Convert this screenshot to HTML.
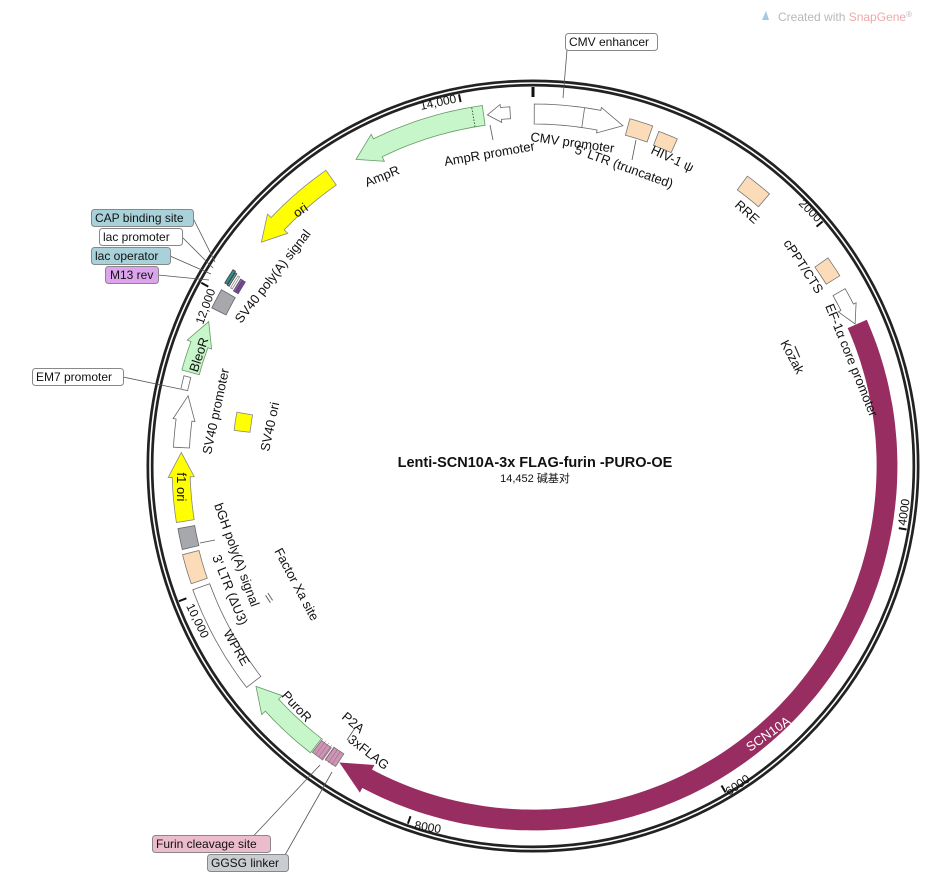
<!DOCTYPE html>
<html><head><meta charset="utf-8">
<style>
html,body{margin:0;padding:0;background:#fff;}
svg{display:block;font-family:"Liberation Sans","DejaVu Sans","Noto Sans CJK SC",sans-serif;}
.l{font-size:13px;fill:#111;}
.tk{font-size:12px;fill:#111;}
</style></head>
<body>
<svg id="s" width="938" height="885" viewBox="0 0 938 885" xmlns="http://www.w3.org/2000/svg">
<g id="shapes"></g>
<circle cx="533" cy="466" r="383" fill="none" stroke="#222" stroke-width="7"/>
<circle cx="533" cy="466" r="383" fill="none" stroke="#fff" stroke-width="1.6"/>
<g id="ticks"></g>

<text x="535" y="467" text-anchor="middle" font-size="14.5" font-weight="bold" fill="#111">Lenti-SCN10A-3x FLAG-furin -PURO-OE</text>
<text x="535" y="482" text-anchor="middle" font-size="11" fill="#111">14,452 碱基对</text>

<text x="778" y="21" font-size="12" fill="#b8b8b8">Created with <tspan fill="#f0a8a8">SnapGene</tspan><tspan font-size="8" dy="-4">®</tspan></text>
<path d="M762 20 l4 -9 l3 9 z" fill="#9ecae8"/>

<g stroke="#555" stroke-width="0.8" fill="none">
<path d="M567 50 L563 98"/>
<path d="M193 218 L215 262"/>
<path d="M182 237 L213 268"/>
<path d="M170 256 L211 274"/>
<path d="M158 275 L209 280"/>
<path d="M123 377 L180 389"/>
<path d="M245 845 L320 765"/>
<path d="M285 855 L332 772"/>
<path d="M636 140 L632 160"/>
<path d="M490 125 L493 140"/>
<path d="M347 740 L355 728"/>
<path d="M200 543 L215 540"/>
</g>

<g font-size="12">
<rect x="565.5" y="33.5" width="92" height="17" rx="3" fill="#fff" stroke="#888"/>
<text x="569" y="46" fill="#111">CMV enhancer</text>
<rect x="91.5" y="209.5" width="102" height="17" rx="3" fill="#a9d1d9" stroke="#888"/>
<text x="95" y="222" fill="#111">CAP binding site</text>
<rect x="99.5" y="228.5" width="83" height="17" rx="3" fill="#fff" stroke="#888"/>
<text x="103" y="241" fill="#111">lac promoter</text>
<rect x="91.5" y="247.5" width="79" height="17" rx="3" fill="#a9d1d9" stroke="#888"/>
<text x="95" y="260" fill="#111">lac operator</text>
<rect x="105.5" y="266.5" width="53" height="17" rx="3" fill="#dca4ec" stroke="#888"/>
<text x="110" y="279" fill="#111">M13 rev</text>
<rect x="32.5" y="368.5" width="91" height="17" rx="3" fill="#fff" stroke="#888"/>
<text x="36" y="381" fill="#111">EM7 promoter</text>
<rect x="152.5" y="835.5" width="118" height="17" rx="3" fill="#ecbccd" stroke="#888"/>
<text x="156" y="848" fill="#111">Furin cleavage site</text>
<rect x="207.5" y="854.5" width="81" height="17" rx="3" fill="#c9cdd1" stroke="#888"/>
<text x="211" y="867" fill="#111">GGSG linker</text>
</g>

<g class="l">
<text transform="translate(530,141) rotate(8)">CMV promoter</text>
<text transform="translate(574,153) rotate(20)">5' LTR (truncated)</text>
<text transform="translate(650,153) rotate(25)">HIV-1 ψ</text>
<text transform="translate(734,206) rotate(42)">RRE</text>
<text transform="translate(783,243) rotate(57)">cPPT/CTS</text>
<text transform="translate(825,306) rotate(68)">EF-1α core promoter</text>
<text transform="translate(780,343) rotate(62)">Kozak</text>
<text transform="translate(750,752) rotate(-35)" fill="#fff">SCN10A</text>
<text transform="translate(341,718) rotate(40)">P2A</text>
<text transform="translate(347,741) rotate(38)">3xFLAG</text>
<text transform="translate(281,696) rotate(47)">PuroR</text>
<text transform="translate(223,633) rotate(60)">WPRE</text>
<text transform="translate(212,557) rotate(68)">3' LTR (ΔU3)</text>
<text transform="translate(214,505) rotate(70)">bGH poly(A) signal</text>
<text transform="translate(274,551) rotate(62)">Factor Xa site</text>
<text transform="translate(177,487) rotate(90)" text-anchor="middle">f1 ori</text>
<text transform="translate(211,455) rotate(-78)">SV40 promoter</text>
<text transform="translate(269,452) rotate(-78)">SV40 ori</text>
<text transform="translate(203,356) rotate(-72)" text-anchor="middle">BleoR</text>
<text transform="translate(241,324) rotate(-52)">SV40 poly(A) signal</text>
<text transform="translate(297,218) rotate(-35)">ori</text>
<text transform="translate(367,187) rotate(-22)">AmpR</text>
<text transform="translate(445,166) rotate(-10)">AmpR promoter</text>
</g>
<g class="tk">
<text transform="translate(421,110) rotate(-12)">14,000</text>
<text transform="translate(798,204) rotate(45)">2000</text>
<text transform="translate(906,526) rotate(-82)">4000</text>
<text transform="translate(729,796) rotate(-35)">6000</text>
<text transform="translate(414,829) rotate(9)">8000</text>
<text transform="translate(186,606) rotate(64)">10,000</text>
<text transform="translate(203,325) rotate(-70)">12,000</text>
</g>
</svg>
<script>
var cx=533,cy=466,NS="http://www.w3.org/2000/svg";
function P(a,r){var t=a*Math.PI/180;return [cx+r*Math.sin(t),cy-r*Math.cos(t)];}
function f(p){return p[0].toFixed(1)+" "+p[1].toFixed(1);}
function add(g,tag,attrs){var e=document.createElementNS(NS,tag);for(var k in attrs)e.setAttribute(k,attrs[k]);document.getElementById(g).appendChild(e);return e;}
function arcPts(a1,a2,r){var s=[],n=Math.max(2,Math.ceil(Math.abs(a2-a1)));for(var i=0;i<=n;i++)s.push(P(a1+(a2-a1)*i/n,r));return s;}
function box(a1,a2,r,w,fill,stroke){
  var o=arcPts(a1,a2,r+w/2),i=arcPts(a2,a1,r-w/2);
  var d="M"+o.map(f).join(" L")+" L"+i.map(f).join(" L")+"Z";
  add("shapes","path",{d:d,fill:fill,stroke:stroke||"#777","stroke-width":0.8});
}
function arrow(a1,a2,r,w,dir,head,fill,stroke,hw){
  if(hw===undefined)hw=w*0.3;var d;
  if(dir>0){var b=a2-head;
    var o=arcPts(a1,b,r+w/2),i=arcPts(b,a1,r-w/2);
    d="M"+o.map(f).join(" L")+" L"+f(P(b,r+w/2+hw))+" L"+f(P(a2,r))+" L"+f(P(b,r-w/2-hw))+" L"+i.map(f).join(" L")+"Z";
  }else{var b=a1+head;
    var o=arcPts(b,a2,r+w/2),i=arcPts(a2,b,r-w/2);
    d="M"+o.map(f).join(" L")+" L"+i.map(f).join(" L")+" L"+f(P(b,r-w/2-hw))+" L"+f(P(a1,r))+" L"+f(P(b,r+w/2+hw))+"Z";
  }
  add("shapes","path",{d:d,fill:fill,stroke:stroke||"#777","stroke-width":0.8});
}
var peach="#fcdcb8",gr="#c6f6c9",ye="#ffff00",gy="#a6a8ab";
arrow(0.2,14.8,352,20,1,4,"#fff","#666",3);
add("shapes","path",{d:"M"+f(P(8.2,362))+" L"+f(P(8.2,342)),stroke:"#666","stroke-width":0.8});
box(15.6,19.4,352,17,peach);
box(20.6,23.8,350,15,peach);
box(36.5,41,352,17,peach);
box(54.8,58.2,353,16,peach);
arrow(60.4,66.2,352,14,1,3,"#fff","#666",3);
arrow(66.4,213,354,20,1,5,"#982d61","#982d61",5);
box(213.3,215.3,352,15,"#c997b3");
box(215.6,217.6,354,15,"#c997b3");
for(var a=214;a<218;a+=0.6)add("shapes","path",{d:"M"+f(P(a,344))+" L"+f(P(a,361)),stroke:"#b04a7a","stroke-width":0.5});
arrow(217.8,231.5,354,18,1,4,gr,"#669966",5);
box(232.3,250,353,18,"#fff","#666");
box(251,255.8,353,17,peach);
box(256.6,260,352,17,gy,"#666");
arrow(261,272.2,352,18,1,4,ye,"#888",4);
arrow(273,281.5,352,16,1,4,"#fff","#666",3);
box(282.3,284.5,357,7,"#fff","#666");
arrow(285.3,294,355,18,1,4,gr,"#669966",4);
box(296.2,299.5,350,16,gy,"#666");
box(300.3,302.6,343,3,"#7a3fa0","#555");
box(300.3,302.6,346,2,"#9b59c9","#555");
box(300.5,302.8,350,2,"#fff","#888");
box(300.6,303,354,2,"#5a9ea0","#444");
box(300.7,303.2,357,3,"#2f8f8a","#444");
arrow(309.5,325,352,18,-1,4,ye,"#888",5);
arrow(330,352,354,20,-1,4,gr,"#669966",5);
add("shapes","path",{d:"M"+f(P(350.3,344))+" L"+f(P(350.3,364)),stroke:"#333","stroke-width":0.8,"stroke-dasharray":"1.5 1.5",fill:"none"});
arrow(352.6,356.3,354,12,-1,2.2,"#fff","#666",3);
box(276.8,280.3,293,16,ye,"#888");
add("shapes","path",{d:"M"+f(P(65.4,288))+" L"+f(P(67.8,288)),stroke:"#333","stroke-width":1.2});
add("shapes","path",{d:"M"+f(P(242.5,296))+" L"+f(P(244.2,297))+" M"+f(P(242.7,293))+" L"+f(P(244.4,294)),stroke:"#666","stroke-width":1});
for(var b=0;b<14452;b+=2000){var a=b/14452*360;
 add("ticks","path",{d:"M"+f(P(a,379))+" L"+f(P(a,b==0?369:371)),stroke:"#111","stroke-width":b==0?3:2});}
</script>
</body></html>
